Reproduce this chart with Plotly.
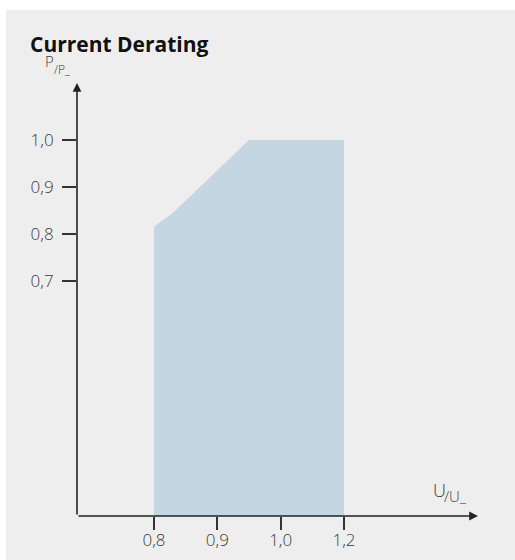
import numpy as np
import plotly.graph_objects as go

# tick values (U/U_ and P/P_)
x_tick_vals = [0.8, 0.9, 1.0, 1.2]
x_tick_text = ["0,8", "0,9", "1,0", "1,2"]
y_tick_vals = [0.7, 0.8, 0.9, 1.0]
y_tick_text = ["0,7", "0,8", "0,9", "1,0"]

# derating curve (upper edge of the allowed area)
u_curve = [0.8, 0.83, 0.95, 1.2]
p_curve = [0.815, 0.845, 1.0, 1.0]
p_floor = 0.2  # bottom of the drawn area (where the U axis sits)

# the U axis is ordinal: ticks equally spaced
x_tick_pos = list(range(len(x_tick_vals)))
def upos(u):
    return np.interp(u, x_tick_vals, x_tick_pos)

xs = [upos(u_curve[0])] + [upos(u) for u in u_curve] + [upos(u_curve[-1])]
ys = [p_floor] + p_curve + [p_floor]

FONT = "Open Sans"
TXT = "#3a3a3a"
AX = "#222222"

fig = go.Figure()
fig.add_trace(go.Scatter(
    x=xs, y=ys, mode="lines", fill="toself",
    fillcolor="#c3d6e1", line=dict(width=0, color="#c3d6e1"),
    hoverinfo="skip", showlegend=False,
))

x_range = [-1.216, 5.116]
y_range = [p_floor, 1.121]

fig.update_layout(
    width=515, height=560,
    margin=dict(l=77, r=37, t=83, b=44, autoexpand=False),
    paper_bgcolor="white",
    plot_bgcolor="rgba(0,0,0,0)",
    showlegend=False,
    font=dict(family=FONT, size=17, color=TXT, weight=300),
    xaxis=dict(
        range=x_range, showgrid=False, zeroline=False, showline=False,
        tickmode="array", tickvals=x_tick_pos, ticktext=x_tick_text,
        ticks="outside", ticklen=13, tickwidth=1.5, tickcolor="#333333",
        tickfont=dict(family=FONT, size=17, color=TXT, weight=300),
        ticklabelstandoff=-4,
        automargin=False, fixedrange=True,
    ),
    yaxis=dict(
        range=y_range, showgrid=False, zeroline=False, showline=False,
        tickmode="array", tickvals=y_tick_vals, ticktext=y_tick_text,
        ticks="outside", ticklen=14, tickwidth=1.5, tickcolor="#333333",
        tickfont=dict(family=FONT, size=17, color=TXT, weight=300),
        ticklabelstandoff=5,
        automargin=False, fixedrange=True,
    ),
    shapes=[dict(
        type="rect", xref="paper", yref="paper",
        x0=-0.177, x1=1.3, y0=-0.3, y1=1.1686,
        fillcolor="#eeeeee", line=dict(width=0), layer="below",
    )],
)

# axis arrows
fig.add_annotation(x=x_range[1], y=p_floor, ax=x_range[0], ay=p_floor,
                   xref="x", yref="y", axref="x", ayref="y",
                   showarrow=True, arrowhead=2, arrowsize=1.1, arrowwidth=1.6,
                   arrowcolor=AX, text="")
fig.add_annotation(x=x_range[0], y=y_range[1], ax=x_range[0], ay=p_floor,
                   xref="x", yref="y", axref="x", ayref="y",
                   showarrow=True, arrowhead=2, arrowsize=1.1, arrowwidth=1.6,
                   arrowcolor=AX, text="")

# title
fig.add_annotation(text="<b>Current Derating</b>", xref="paper", yref="paper",
                   x=-0.121, y=1.053, xanchor="left", yanchor="bottom",
                   showarrow=False,
                   font=dict(family=FONT, size=21, color="#111111", weight=700))
# axis names
def axis_name(main, sub, x, y, size_main, size_sub, drop):
    fig.add_annotation(text=main, xref="paper", yref="paper",
                       x=x, y=y, xanchor="left", yanchor="bottom",
                       showarrow=False,
                       font=dict(family=FONT, size=size_main, color=TXT, weight=300))
    fig.add_annotation(text=sub, xref="paper", yref="paper",
                       x=x, y=y, xanchor="left", yanchor="bottom",
                       xshift=size_main * 0.62, yshift=-drop,
                       showarrow=False,
                       font=dict(family=FONT, size=size_sub, color=TXT, weight=300))

axis_name("P", "/P_", -0.085, 1.023, 15, 12, 7)
axis_name("U", "/U_", 0.883, 0.028, 18, 15, 4)

fig.write_html("out.html", config={"displayModeBar": False},
               post_script="document.body.style.margin='0px';")
